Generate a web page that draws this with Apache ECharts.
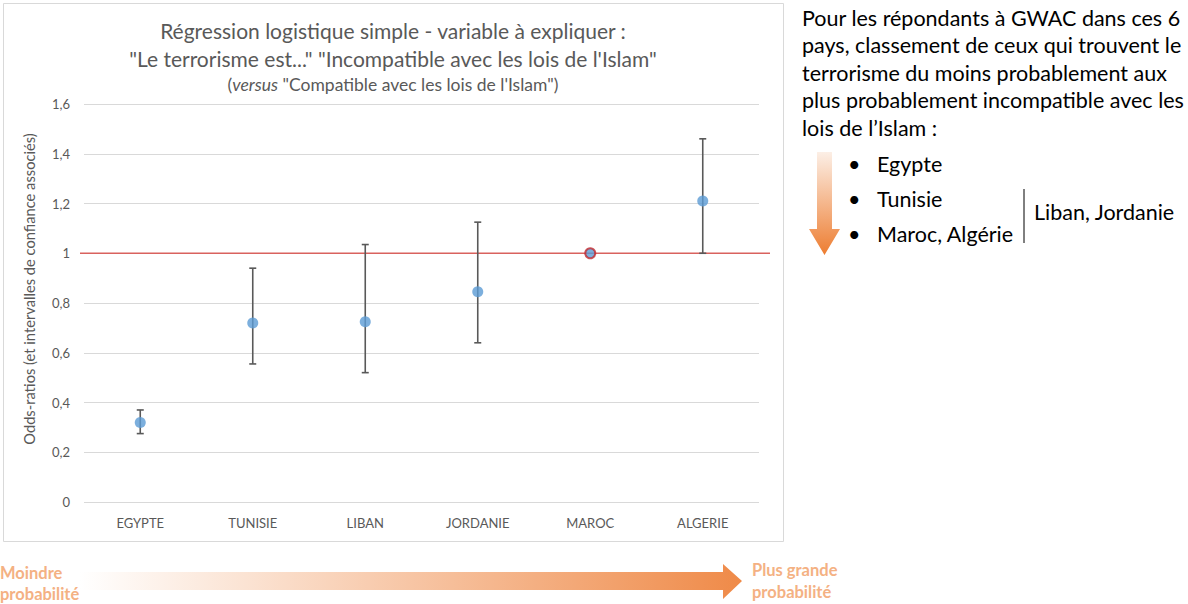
<!DOCTYPE html>
<html><head><meta charset="utf-8">
<script src="https://cdn.jsdelivr.net/npm/echarts@6/dist/echarts.min.js"></script>
<style>html,body{margin:0;padding:0;background:#fff}#c{width:1188px;height:604px}</style>
</head><body><div id="c"></div>
<script>
const categories = ['EGYPTE','TUNISIE','LIBAN','JORDANIE','MAROC','ALGERIE'];
const oddsRatios = [0.32, 0.72, 0.725, 0.845, 1.0, 1.21];
const ciLow = [0.275, 0.555, 0.52, 0.64, null, 1.0];
const ciHigh = [0.37, 0.94, 1.035, 1.125, null, 1.46];
const referenceIndex = 4;
const referenceLine = 1;
const yTicks = [0, 0.2, 0.4, 0.6, 0.8, 1, 1.2, 1.4, 1.6];

const FONT = 'Lato';
const GRAY = '#595959';
const chart = echarts.init(document.getElementById('c'), null, {renderer: 'svg'});

const pointData = oddsRatios.map((v, i) => {
  if (i === referenceIndex) {
    return {value: [i, v], symbolSize: 10, itemStyle: {color: '#5B9BD5', borderColor: '#C0282D', borderWidth: 2}};
  }
  return {value: [i, v]};
});
const errData = [];
categories.forEach((c, i) => { if (ciLow[i] != null) errData.push([i, ciLow[i], ciHigh[i]]); });

chart.setOption({
  animation: false,
  grid: {left: 84, right: 429, top: 104, bottom: 102},
  xAxis: {
    type: 'category', data: categories, boundaryGap: true,
    axisLine: {show: false}, axisTick: {show: false},
    axisLabel: {color: GRAY, fontSize: 13, fontFamily: FONT, margin: 14}
  },
  yAxis: {
    type: 'value', min: yTicks[0], max: yTicks[yTicks.length - 1], interval: 0.2,
    axisLine: {show: false}, axisTick: {show: false},
    splitLine: {lineStyle: {color: '#d9d9d9', width: 1}},
    axisLabel: {color: GRAY, fontSize: 13, fontFamily: FONT, margin: 14,
      formatter: v => String(Math.round(v * 10) / 10).replace('.', ',')},
    name: 'Odds-ratios (et intervalles de confiance associés)',
    nameLocation: 'middle', nameRotate: 90, nameGap: 48,
    nameTextStyle: {color: GRAY, fontSize: 14.7, fontFamily: FONT, padding: [0, 0, 0, 28]}
  },
  series: [
    {
      type: 'custom', z: 1, clip: false, silent: true,
      data: [[0, referenceLine]],
      renderItem: (params, api) => {
        const cs = params.coordSys;
        const y = api.coord([0, api.value(1)])[1];
        return {type: 'line', shape: {x1: cs.x - 4, y1: y, x2: cs.x + cs.width + 11, y2: y},
          style: {stroke: '#D9625E', lineWidth: 1.5}};
      }
    },
    {
      type: 'custom', z: 2, silent: true,
      data: errData,
      renderItem: (params, api) => {
        const x = api.value(0);
        const lo = api.coord([x, api.value(1)]);
        const hi = api.coord([x, api.value(2)]);
        const w = 3.5;
        const st = {stroke: '#595959', lineWidth: 1.6};
        return {type: 'group', children: [
          {type: 'line', shape: {x1: lo[0], y1: lo[1], x2: hi[0], y2: hi[1]}, style: st},
          {type: 'line', shape: {x1: lo[0] - w, y1: lo[1], x2: lo[0] + w, y2: lo[1]}, style: st},
          {type: 'line', shape: {x1: hi[0] - w, y1: hi[1], x2: hi[0] + w, y2: hi[1]}, style: st}
        ]};
      }
    },
    {
      type: 'scatter', z: 3, symbol: 'circle', symbolSize: 11,
      itemStyle: {color: '#5B9BD5'},
      data: pointData
    }
  ],
  graphic: [
    {type: 'rect', silent: true, z: -10, shape: {x: 3.5, y: 3.5, width: 780, height: 538},
      style: {fill: 'none', stroke: '#d9d9d9', lineWidth: 1}},
    {type: 'text', x: 393, y: 30, silent: true, style: {text: 'Régression logistique simple - variable à expliquer :',
      fill: GRAY, font: '21px ' + FONT, textAlign: 'center', textVerticalAlign: 'middle'}},
    {type: 'text', x: 393, y: 58, silent: true, style: {text: '"Le terrorisme est..." "Incompatible avec les lois de l\'Islam"',
      fill: GRAY, font: '21px ' + FONT, textAlign: 'center', textVerticalAlign: 'middle'}},
    {type: 'text', x: 393, y: 84, silent: true, style: {
      text: '({i|versus} "Compatible avec les lois de l\'Islam")',
      rich: {i: {fontStyle: 'italic', fontSize: 17.5, fontFamily: FONT, fill: GRAY}},
      fill: GRAY, fontSize: 17.5, fontFamily: FONT, textAlign: 'center', textVerticalAlign: 'middle'}},
    // right text
    {type: 'text', x: 802, y: 4, silent: true, style: {
      text: 'Pour les répondants à GWAC dans ces 6\npays, classement de ceux qui trouvent le\nterrorisme du moins probablement aux\nplus probablement incompatible avec les\nlois de l’Islam :',
      fill: '#000', fontSize: 21.5, fontFamily: FONT, lineHeight: 27.5}},
    {type: 'text', x: 848, y: 146, silent: true, style: {text: '•\n•\n•', fill: '#000', fontSize: 21.5, fontFamily: FONT, lineHeight: 35}},
    {type: 'text', x: 877, y: 146, silent: true, style: {text: 'Egypte\nTunisie\nMaroc, Algérie', fill: '#000', fontSize: 21.5, fontFamily: FONT, lineHeight: 35}},
    {type: 'line', silent: true, shape: {x1: 1024, y1: 189, x2: 1024, y2: 243}, style: {stroke: '#000', lineWidth: 1}},
    {type: 'text', x: 1034, y: 212, silent: true, style: {text: 'Liban, Jordanie', fill: '#000', fontSize: 21.5, fontFamily: FONT, textVerticalAlign: 'middle'}},
    // down arrow
    {type: 'polygon', silent: true, shape: {points: [[817,152],[832,152],[832,229],[840,229],[824.5,255],[809,229],[817,229]]},
      style: {fill: new echarts.graphic.LinearGradient(0, 0, 0, 1, [
        {offset: 0, color: '#FCEFE6'}, {offset: 1, color: '#ED7D31'}])}},
    // bottom arrow
    {type: 'polygon', silent: true, shape: {points: [[80,572],[723,572],[723,564],[742,581],[723,599],[723,590],[80,590]]},
      style: {fill: new echarts.graphic.LinearGradient(0, 0, 1, 0, [
        {offset: 0, color: 'rgba(255,255,255,1)'}, {offset: 0.25, color: '#FBE3D3'}, {offset: 1, color: '#EF8A48'}])}},
    {type: 'text', x: 0, y: 573, silent: true, style: {text: 'Moindre', fill: '#F4B183', fontSize: 16.5, fontWeight: 'bold', fontFamily: FONT, textVerticalAlign: 'middle'}},
    {type: 'text', x: 0, y: 594, silent: true, style: {text: 'probabilité', fill: '#F4B183', fontSize: 16.5, fontWeight: 'bold', fontFamily: FONT, textVerticalAlign: 'middle'}},
    {type: 'text', x: 752, y: 570, silent: true, style: {text: 'Plus grande', fill: '#F4B183', fontSize: 16.5, fontWeight: 'bold', fontFamily: FONT, textVerticalAlign: 'middle'}},
    {type: 'text', x: 752, y: 592, silent: true, style: {text: 'probabilité', fill: '#F4B183', fontSize: 16.5, fontWeight: 'bold', fontFamily: FONT, textVerticalAlign: 'middle'}}
  ]
});
</script></body></html>
